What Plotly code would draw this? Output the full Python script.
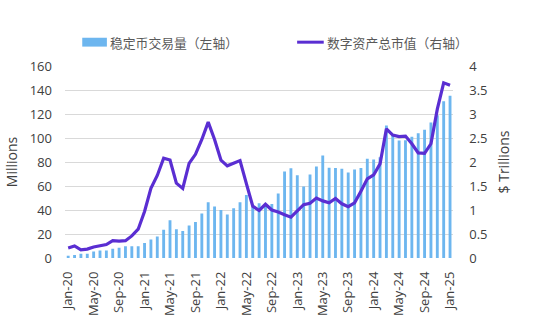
import pandas as pd
import plotly.graph_objects as go
from plotly.subplots import make_subplots

months = [d.strftime("%b-%y") for d in pd.date_range("2020-01-01", "2025-01-01", freq="MS")]

stablecoin_volume = [
    1.9, 2.5, 3.5, 3.6, 5.4, 6.2, 6.3, 7.7, 8.5, 9.8, 9.8, 9.8,
    12.5, 15.4, 18.0, 23.5, 31.5, 24.0, 22.6, 27.0, 30.0, 37.0, 46.5, 43.0,
    40.0, 36.3, 41.5, 46.5, 52.5, 43.0, 45.7, 44.0, 45.0, 53.8, 72.0, 74.7,
    69.0, 59.5, 69.6, 76.2, 85.5, 75.2, 75.0, 74.4, 71.3, 73.8, 75.0, 82.8,
    82.0, 84.0, 110.5, 103.0, 98.0, 98.2, 101.0, 104.0, 106.8, 113.0, 119.0, 130.7,
    135.3,
]

market_cap = [
    0.21, 0.25, 0.17, 0.185, 0.23, 0.26, 0.28, 0.36, 0.35, 0.36, 0.46, 0.60,
    0.97, 1.45, 1.72, 2.08, 2.04, 1.56, 1.45, 1.97, 2.16, 2.47, 2.83, 2.47,
    2.04, 1.92, 1.97, 2.03, 1.55, 1.08, 0.99, 1.12, 1.00, 0.96, 0.90, 0.85,
    0.98, 1.11, 1.14, 1.25, 1.19, 1.15, 1.24, 1.13, 1.07, 1.15, 1.39, 1.65,
    1.73, 1.96, 2.69, 2.56, 2.53, 2.54, 2.38, 2.19, 2.18, 2.38, 3.10, 3.65,
    3.60,
]

tick_labels = months[::4]
left_ticks = [0, 20, 40, 60, 80, 100, 120, 140, 160]
right_ticks = [0, 0.5, 1, 1.5, 2, 2.5, 3, 3.5, 4]
series_names = ["稳定币交易量（左轴）", "数字资产总市值（右轴）"]

BAR_COLOR = "#6DB6EF"
LINE_COLOR = "#5A2ED2"
FONT = "'Open Sans', 'Noto Sans CJK SC', sans-serif"
TXT = "#404040"

W, H = 544, 328
ML, MR, MT, MB = 59.5, 65.5, 65.7, 67.3
PW, PH = W - ML - MR, H - MT - MB


def px_x(px):
    return (px - ML) / PW


def px_y(py):
    return 1 + (MT - py) / PH


fig = make_subplots(specs=[[{"secondary_y": True}]])
fig.add_trace(
    go.Bar(x=months, y=stablecoin_volume, name=series_names[0],
           marker=dict(color=BAR_COLOR, line=dict(width=0)), showlegend=False),
    secondary_y=False,
)
fig.add_trace(
    go.Scatter(x=months, y=market_cap, name=series_names[1], mode="lines",
               line=dict(color=LINE_COLOR, width=3.2), showlegend=False),
    secondary_y=True,
)

# legend drawn as shapes + text (wide swatch like the reference)
fig.add_shape(type="rect", xref="paper", yref="paper",
              x0=px_x(77), x1=px_x(102), y0=px_y(46), y1=px_y(37),
              fillcolor=BAR_COLOR, line=dict(width=0))
fig.add_shape(type="line", xref="paper", yref="paper",
              x0=px_x(295), x1=px_x(322), y0=px_y(41.5), y1=px_y(41.5),
              line=dict(color=LINE_COLOR, width=3))
legend_font = dict(family="'Noto Sans CJK SC', sans-serif", size=12.8, color="#595959")
fig.add_annotation(text=series_names[0], xref="paper", yref="paper",
                   x=px_x(103), y=px_y(41.5), xanchor="left", yanchor="middle",
                   showarrow=False, font=legend_font)
fig.add_annotation(text=series_names[1], xref="paper", yref="paper",
                   x=px_x(323), y=px_y(41.5), xanchor="left", yanchor="middle",
                   showarrow=False, font=legend_font)

fig.update_layout(
    width=W, height=H,
    margin=dict(l=ML, r=MR, t=MT, b=MB),
    paper_bgcolor="white", plot_bgcolor="white",
    bargap=0.55,
    font=dict(family=FONT, size=13, color=TXT),
    showlegend=False,
)
fig.update_xaxes(
    type="category", tickmode="array", tickvals=tick_labels, ticktext=tick_labels,
    tickangle=-90, showgrid=False, showline=False, ticks="", ticklabelstandoff=10,
    tickfont=dict(size=13, color=TXT),
)
fig.update_yaxes(
    range=[0, 160], tickvals=left_ticks, showgrid=True, gridcolor="#D9D9D9", gridwidth=1,
    zeroline=False, showline=False, ticks="", ticklabelstandoff=12,
    title=dict(text="Millions", font=dict(size=14, color=TXT), standoff=8),
    tickfont=dict(size=13, color=TXT),
    secondary_y=False,
)
fig.update_yaxes(
    range=[0, 4], tickvals=right_ticks, showgrid=False, zeroline=False, showline=False,
    ticks="", ticklabelstandoff=15,
    title=dict(text="$ Trillions", font=dict(size=14, color=TXT), standoff=12),
    tickfont=dict(size=13, color=TXT),
    secondary_y=True,
)

fig.write_html("out.html")
